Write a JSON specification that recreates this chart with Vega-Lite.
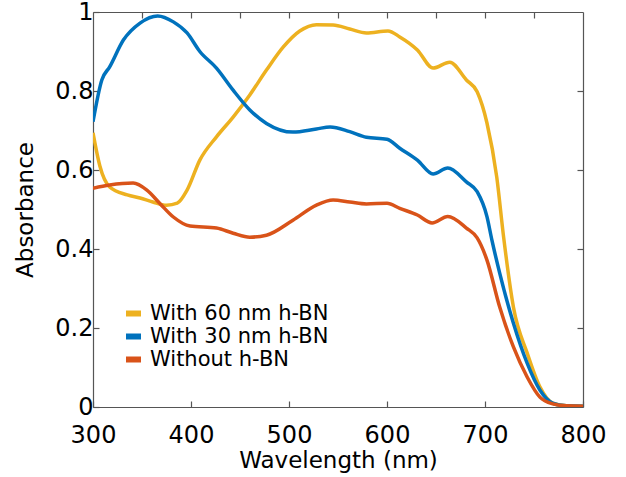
{
  "$schema": "https://vega.github.io/schema/vega-lite/v6.json",
  "width": 490,
  "height": 395,
  "autosize": "none",
  "padding": {"left": 93, "top": 12, "right": 43, "bottom": 70},
  "background": "white",
  "config": {
    "view": {"stroke": null},
    "font": "DejaVu Sans",
    "axis": {
      "grid": false,
      "domainColor": "#555555",
      "domainWidth": 1.2,
      "tickColor": "#555555",
      "tickWidth": 1.2,
      "tickSize": -6,
      "labelFlush": false,
      "labelFont": "DejaVu Sans",
      "titleFont": "DejaVu Sans",
      "labelFontSize": 24,
      "titleFontSize": 23,
      "labelColor": "#000000",
      "titleColor": "#000000",
      "titleFontWeight": "normal"
    }
  },
  "data": {
    "values": [
      {"nm": 300, "A": 0.694, "s": "With 60 nm h-BN"},
      {"nm": 307, "A": 0.61, "s": "With 60 nm h-BN"},
      {"nm": 317, "A": 0.557, "s": "With 60 nm h-BN"},
      {"nm": 335, "A": 0.537, "s": "With 60 nm h-BN"},
      {"nm": 348, "A": 0.529, "s": "With 60 nm h-BN"},
      {"nm": 361, "A": 0.519, "s": "With 60 nm h-BN"},
      {"nm": 375, "A": 0.511, "s": "With 60 nm h-BN"},
      {"nm": 386, "A": 0.516, "s": "With 60 nm h-BN"},
      {"nm": 396, "A": 0.549, "s": "With 60 nm h-BN"},
      {"nm": 409, "A": 0.625, "s": "With 60 nm h-BN"},
      {"nm": 426, "A": 0.684, "s": "With 60 nm h-BN"},
      {"nm": 443, "A": 0.734, "s": "With 60 nm h-BN"},
      {"nm": 460, "A": 0.79, "s": "With 60 nm h-BN"},
      {"nm": 477, "A": 0.853, "s": "With 60 nm h-BN"},
      {"nm": 494, "A": 0.911, "s": "With 60 nm h-BN"},
      {"nm": 511, "A": 0.952, "s": "With 60 nm h-BN"},
      {"nm": 528, "A": 0.968, "s": "With 60 nm h-BN"},
      {"nm": 545, "A": 0.967, "s": "With 60 nm h-BN"},
      {"nm": 562, "A": 0.957, "s": "With 60 nm h-BN"},
      {"nm": 579, "A": 0.947, "s": "With 60 nm h-BN"},
      {"nm": 601, "A": 0.952, "s": "With 60 nm h-BN"},
      {"nm": 613, "A": 0.937, "s": "With 60 nm h-BN"},
      {"nm": 631, "A": 0.904, "s": "With 60 nm h-BN"},
      {"nm": 647, "A": 0.858, "s": "With 60 nm h-BN"},
      {"nm": 664, "A": 0.873, "s": "With 60 nm h-BN"},
      {"nm": 681, "A": 0.828, "s": "With 60 nm h-BN"},
      {"nm": 692, "A": 0.798, "s": "With 60 nm h-BN"},
      {"nm": 702, "A": 0.719, "s": "With 60 nm h-BN"},
      {"nm": 712, "A": 0.582, "s": "With 60 nm h-BN"},
      {"nm": 719, "A": 0.43, "s": "With 60 nm h-BN"},
      {"nm": 729, "A": 0.253, "s": "With 60 nm h-BN"},
      {"nm": 743, "A": 0.137, "s": "With 60 nm h-BN"},
      {"nm": 756, "A": 0.051, "s": "With 60 nm h-BN"},
      {"nm": 769, "A": 0.01, "s": "With 60 nm h-BN"},
      {"nm": 783, "A": 0.003, "s": "With 60 nm h-BN"},
      {"nm": 800, "A": 0.002, "s": "With 60 nm h-BN"},

      {"nm": 300, "A": 0.722, "s": "With 30 nm h-BN"},
      {"nm": 309, "A": 0.828, "s": "With 30 nm h-BN"},
      {"nm": 317, "A": 0.861, "s": "With 30 nm h-BN"},
      {"nm": 331, "A": 0.929, "s": "With 30 nm h-BN"},
      {"nm": 348, "A": 0.972, "s": "With 30 nm h-BN"},
      {"nm": 366, "A": 0.99, "s": "With 30 nm h-BN"},
      {"nm": 382, "A": 0.975, "s": "With 30 nm h-BN"},
      {"nm": 396, "A": 0.947, "s": "With 30 nm h-BN"},
      {"nm": 409, "A": 0.9, "s": "With 30 nm h-BN"},
      {"nm": 426, "A": 0.858, "s": "With 30 nm h-BN"},
      {"nm": 443, "A": 0.802, "s": "With 30 nm h-BN"},
      {"nm": 460, "A": 0.752, "s": "With 30 nm h-BN"},
      {"nm": 477, "A": 0.718, "s": "With 30 nm h-BN"},
      {"nm": 504, "A": 0.696, "s": "With 30 nm h-BN"},
      {"nm": 528, "A": 0.704, "s": "With 30 nm h-BN"},
      {"nm": 542, "A": 0.709, "s": "With 30 nm h-BN"},
      {"nm": 562, "A": 0.697, "s": "With 30 nm h-BN"},
      {"nm": 579, "A": 0.683, "s": "With 30 nm h-BN"},
      {"nm": 600, "A": 0.678, "s": "With 30 nm h-BN"},
      {"nm": 613, "A": 0.655, "s": "With 30 nm h-BN"},
      {"nm": 631, "A": 0.625, "s": "With 30 nm h-BN"},
      {"nm": 647, "A": 0.59, "s": "With 30 nm h-BN"},
      {"nm": 662, "A": 0.605, "s": "With 30 nm h-BN"},
      {"nm": 681, "A": 0.57, "s": "With 30 nm h-BN"},
      {"nm": 692, "A": 0.545, "s": "With 30 nm h-BN"},
      {"nm": 702, "A": 0.482, "s": "With 30 nm h-BN"},
      {"nm": 707, "A": 0.423, "s": "With 30 nm h-BN"},
      {"nm": 715, "A": 0.339, "s": "With 30 nm h-BN"},
      {"nm": 729, "A": 0.212, "s": "With 30 nm h-BN"},
      {"nm": 743, "A": 0.111, "s": "With 30 nm h-BN"},
      {"nm": 756, "A": 0.043, "s": "With 30 nm h-BN"},
      {"nm": 769, "A": 0.01, "s": "With 30 nm h-BN"},
      {"nm": 783, "A": 0.003, "s": "With 30 nm h-BN"},
      {"nm": 800, "A": 0.002, "s": "With 30 nm h-BN"},

      {"nm": 300, "A": 0.554, "s": "Without h-BN"},
      {"nm": 317, "A": 0.562, "s": "Without h-BN"},
      {"nm": 341, "A": 0.567, "s": "Without h-BN"},
      {"nm": 355, "A": 0.549, "s": "Without h-BN"},
      {"nm": 368, "A": 0.516, "s": "Without h-BN"},
      {"nm": 382, "A": 0.481, "s": "Without h-BN"},
      {"nm": 399, "A": 0.458, "s": "Without h-BN"},
      {"nm": 426, "A": 0.453, "s": "Without h-BN"},
      {"nm": 443, "A": 0.44, "s": "Without h-BN"},
      {"nm": 460, "A": 0.43, "s": "Without h-BN"},
      {"nm": 477, "A": 0.435, "s": "Without h-BN"},
      {"nm": 504, "A": 0.473, "s": "Without h-BN"},
      {"nm": 528, "A": 0.511, "s": "Without h-BN"},
      {"nm": 545, "A": 0.524, "s": "Without h-BN"},
      {"nm": 562, "A": 0.519, "s": "Without h-BN"},
      {"nm": 579, "A": 0.514, "s": "Without h-BN"},
      {"nm": 600, "A": 0.516, "s": "Without h-BN"},
      {"nm": 613, "A": 0.503, "s": "Without h-BN"},
      {"nm": 631, "A": 0.486, "s": "Without h-BN"},
      {"nm": 646, "A": 0.466, "s": "Without h-BN"},
      {"nm": 662, "A": 0.482, "s": "Without h-BN"},
      {"nm": 681, "A": 0.453, "s": "Without h-BN"},
      {"nm": 692, "A": 0.428, "s": "Without h-BN"},
      {"nm": 702, "A": 0.372, "s": "Without h-BN"},
      {"nm": 715, "A": 0.253, "s": "Without h-BN"},
      {"nm": 729, "A": 0.152, "s": "Without h-BN"},
      {"nm": 743, "A": 0.076, "s": "Without h-BN"},
      {"nm": 756, "A": 0.025, "s": "Without h-BN"},
      {"nm": 769, "A": 0.008, "s": "Without h-BN"},
      {"nm": 783, "A": 0.003, "s": "Without h-BN"},
      {"nm": 800, "A": 0.002, "s": "Without h-BN"}
    ]
  },
  "layer": [
    {
      "mark": {"type": "line", "strokeWidth": 3.5, "interpolate": "monotone", "clip": true},
      "encoding": {
        "x": {
          "field": "nm", "type": "quantitative",
          "scale": {"domain": [300, 800], "nice": false},
          "axis": {"orient": "bottom", "values": [300, 400, 500, 600, 700, 800], "title": "Wavelength (nm)", "labelPadding": 22, "titlePadding": 2}
        },
        "y": {
          "field": "A", "type": "quantitative",
          "scale": {"domain": [0, 1], "nice": false},
          "axis": {"orient": "left", "values": [0, 0.2, 0.4, 0.6, 0.8, 1], "format": "~g", "title": "Absorbance", "labelPadding": 6, "titlePadding": 17}
        },
        "color": {
          "field": "s", "type": "nominal",
          "scale": {
            "domain": ["With 60 nm h-BN", "With 30 nm h-BN", "Without h-BN"],
            "range": ["#EDB120", "#0072BD", "#D95319"]
          },
          "legend": {
            "title": null,
            "orient": "none",
            "legendX": 30,
            "legendY": 291,
            "labelFont": "DejaVu Sans",
            "labelFontSize": 21,
            "labelColor": "#000000",
            "labelLimit": 400,
            "symbolType": "M-1,0H1",
            "symbolSize": 225,
            "symbolStrokeWidth": 6,
            "rowPadding": -8,
            "labelOffset": 6
          }
        }
      }
    },
    {
      "mark": {"type": "line", "opacity": 0},
      "encoding": {
        "x": {
          "field": "nm", "type": "quantitative",
          "scale": {"domain": [300, 800], "nice": false},
          "axis": {"orient": "top", "values": [350, 400, 450, 500, 550, 600, 650, 700, 750], "labels": false, "title": null}
        },
        "y": {
          "field": "A", "type": "quantitative",
          "scale": {"domain": [0, 1], "nice": false},
          "axis": {"orient": "right", "values": [0.2, 0.4, 0.6, 0.8], "labels": false, "title": null}
        },
        "detail": {"field": "s", "type": "nominal"}
      }
    }
  ],
  "resolve": {"axis": {"x": "independent", "y": "independent"}}
}
